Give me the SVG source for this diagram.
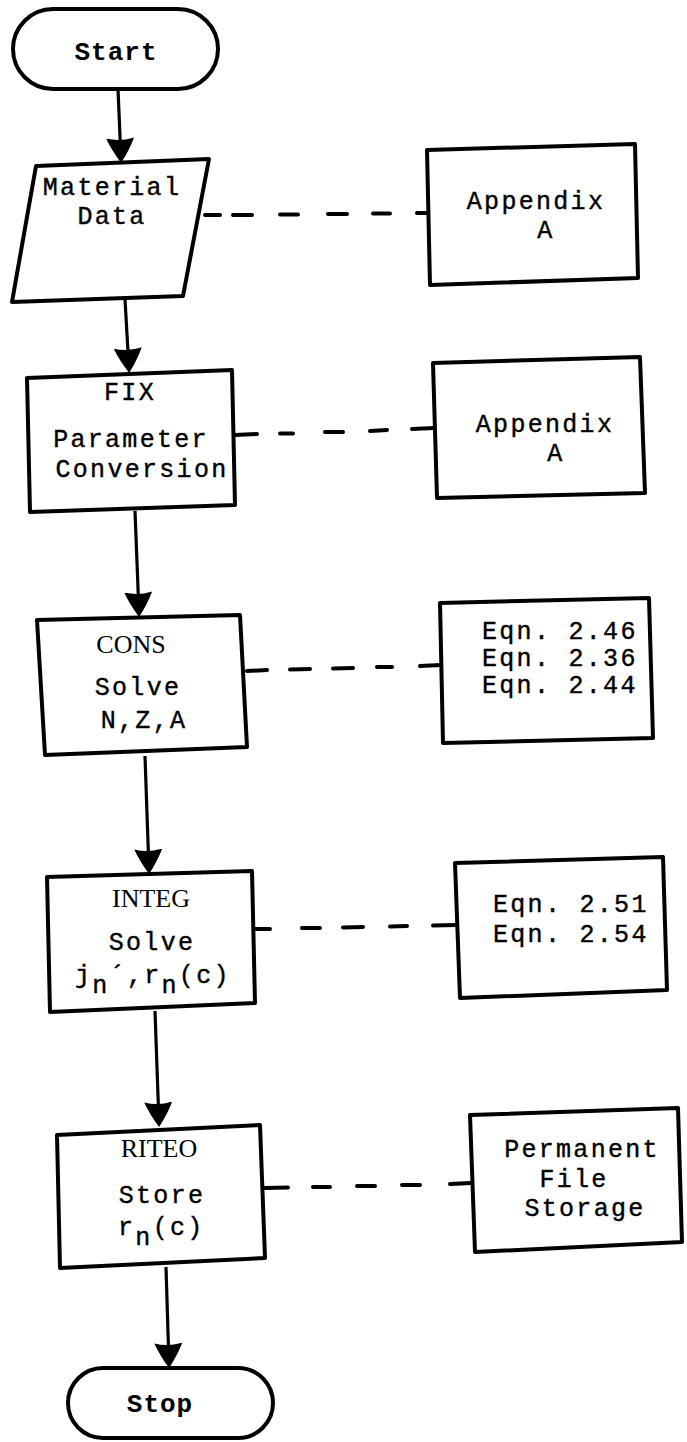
<svg xmlns="http://www.w3.org/2000/svg" width="687" height="1442" viewBox="0 0 687 1442">
<style>
.box{fill:#fff;stroke:#000;stroke-width:4;stroke-linejoin:round}
.flow{fill:none;stroke:#000;stroke-width:3.2}
.dash{fill:none;stroke:#000;stroke-width:4;stroke-linecap:round}
.m{font-family:"Liberation Mono","Courier New",monospace;font-size:25px;letter-spacing:2.3px;fill:#000;stroke:#000;stroke-width:0.4}
.mb{font-family:"Liberation Mono","Courier New",monospace;font-size:26px;letter-spacing:1px;font-weight:bold;fill:#000}
.s{font-family:"Liberation Serif","Times New Roman",serif;font-size:26px;fill:#000}
.c{text-anchor:middle}
</style>
<defs>
<marker id="ah" markerUnits="userSpaceOnUse" markerWidth="30" markerHeight="30" viewBox="0 0 30 30" refX="22" refY="15" orient="auto">
<path d="M0,1 Q12,6 25,15 Q12,24 0,29 Q4,15 0,1 Z" fill="#000"/>
</marker>
</defs>
<rect width="687" height="1442" fill="#fff"/>
<g id="connectors">
<path class="flow" d="M118,89 L121,160" marker-end="url(#ah)"/>
<path class="flow" d="M125,299 L129,370" marker-end="url(#ah)"/>
<path class="flow" d="M135,511 L139,614" marker-end="url(#ah)"/>
<path class="flow" d="M145,756 L149,871" marker-end="url(#ah)"/>
<path class="flow" d="M155,1011 L159,1124" marker-end="url(#ah)"/>
<path class="flow" d="M166,1267 L169,1365" marker-end="url(#ah)"/>
<path class="dash" d="M205,215 L220,215 M233,215 L252,215 M280,214.5 L298,214.5 M328,214 L347,214 M373,213.5 L390,213.5 M417,213 L428,213"/>
<path class="dash" d="M235,435 L257,434 M280,433.5 L293,433.5 M325,432 L343,432 M370,431 L387,430 M412,429 L434,428"/>
<path class="dash" d="M247,671 L267,670 M290,669.5 L310,669 M333,668.5 L353,668 M377,667 L392,667 M420,666 L441,665"/>
<path class="dash" d="M255,929 L270,929 M302,928 L320,928 M343,927.5 L363,927 M390,926.5 L407,926 M433,925.5 L456,925"/>
<path class="dash" d="M265,1188 L288,1187.5 M313,1187 L330,1187 M357,1186 L375,1186 M402,1185 L420,1185 M450,1184 L471,1183"/>
</g>
<g id="start">
<rect class="box" x="13" y="9" width="205" height="80" rx="40"/>
<text class="mb c" x="116" y="60">Start</text>
</g>
<g id="material">
<polygon class="box" points="36,166 209,159 183,296 12,302"/>
<text class="m c" x="112" y="195">Material</text>
<text class="m c" x="112" y="224">Data</text>
</g>
<g id="appendix1">
<polygon class="box" points="427,150 635,144 638,278 430,285"/>
<text class="m c" x="536" y="209">Appendix</text>
<text class="m c" x="546" y="238">A</text>
</g>
<g id="fix">
<polygon class="box" points="27,378 232,370 235,505 30,512"/>
<text class="m c" x="130" y="400">FIX</text>
<text class="m c" x="131" y="447">Parameter</text>
<text class="m c" x="142" y="477">Conversion</text>
</g>
<g id="appendix2">
<polygon class="box" points="433,363 640,357 645,493 437,498"/>
<text class="m c" x="545" y="432">Appendix</text>
<text class="m c" x="556" y="461">A</text>
</g>
<g id="cons">
<polygon class="box" points="37,620 240,615 247,747 45,755"/>
<text class="s c" x="131" y="653">CONS</text>
<text class="m c" x="138" y="695">Solve</text>
<text class="m c" x="144" y="728">N,Z,A</text>
</g>
<g id="eqn1">
<polygon class="box" points="440,603 649,598 653,738 443,743"/>
<text class="m" x="482" y="639">Eqn. 2.46</text>
<text class="m" x="482" y="666">Eqn. 2.36</text>
<text class="m" x="482" y="693">Eqn. 2.44</text>
</g>
<g id="integ">
<polygon class="box" points="47,877 252,871 255,1003 50,1012"/>
<text class="s c" x="151" y="907">INTEG</text>
<text class="m c" x="152" y="950">Solve</text>
<text class="m" x="75" y="983">j<tspan dy="10">n</tspan><tspan dy="-10">´,r</tspan><tspan dy="10">n</tspan><tspan dy="-10">(c)</tspan></text>
</g>
<g id="eqn2">
<polygon class="box" points="455,863 663,857 667,990 460,998"/>
<text class="m" x="493" y="912">Eqn. 2.51</text>
<text class="m" x="493" y="942">Eqn. 2.54</text>
</g>
<g id="riteo">
<polygon class="box" points="57,1135 260,1125 265,1258 60,1268"/>
<text class="s c" x="159" y="1157">RITEO</text>
<text class="m c" x="162" y="1203">Store</text>
<text class="m" x="118" y="1235">r<tspan dy="10">n</tspan><tspan dy="-10">(c)</tspan></text>
</g>
<g id="permanent">
<polygon class="box" points="470,1115 678,1108 682,1242 475,1252"/>
<text class="m c" x="582" y="1157">Permanent</text>
<text class="m c" x="574" y="1187">File</text>
<text class="m c" x="585" y="1216">Storage</text>
</g>
<g id="stop">
<rect class="box" x="68" y="1368" width="205" height="70" rx="35"/>
<text class="mb c" x="160" y="1412">Stop</text>
</g>
</svg>
